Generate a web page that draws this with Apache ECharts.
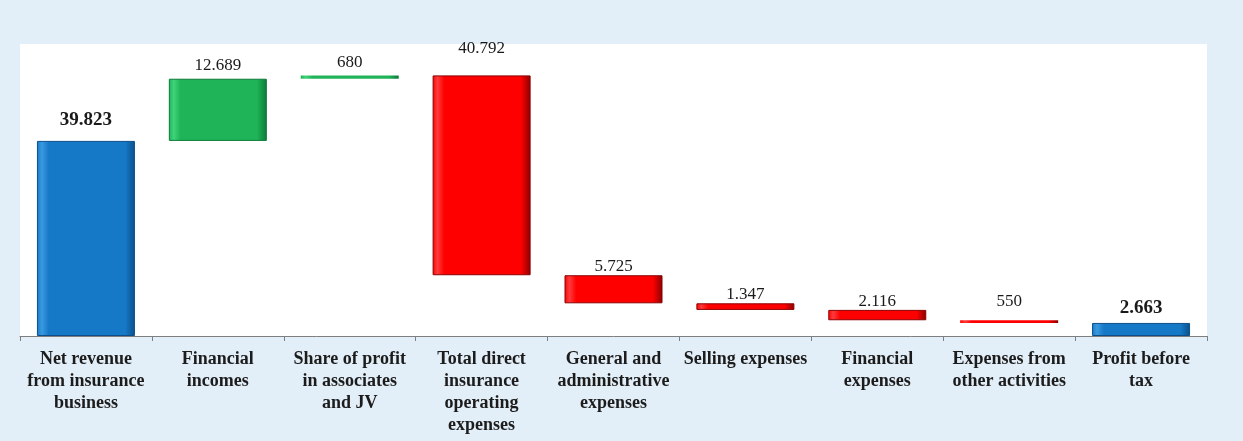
<!DOCTYPE html>
<html>
<head>
<meta charset="utf-8">
<script src="https://cdn.jsdelivr.net/npm/echarts@6/dist/echarts.min.js"></script>
<style>
html,body{margin:0;padding:0;background:#e3eff8;}
#chart{width:1243px;height:441px;}
</style>
</head>
<body>
<div id="chart"></div>
<script>
// categories and values (thousands, shown with dot separator)
var categories = ['Net revenue\nfrom insurance\nbusiness', 'Financial\nincomes', 'Share of profit\nin associates\nand JV',
    'Total direct\ninsurance\noperating\nexpenses', 'General and\nadministrative\nexpenses', 'Selling expenses',
    'Financial\nexpenses', 'Expenses from\nother activities', 'Profit before\ntax'];
var values = [39823, 12689, 680, 40792, 5725, 1347, 2116, 550, 2663];
var kinds = ['total', 'up', 'up', 'down', 'down', 'down', 'down', 'down', 'total'];
var labelGap = [11, 5, 4, 18, 0, 0, 0, 10, 5];

var colors = {
    total: ['#3a9ae0', '#1679c8', '#0b4f8a'],
    up: ['#3fd37a', '#1fb458', '#0d7a38'],
    down: ['#ff3b3b', '#ff0000', '#8a0000']
};

function fmt(v) {
    return String(v).replace(/\B(?=(\d{3})+(?!\d))/g, '.');
}

// base (invisible) part of each waterfall step
var base = [], shown = [];
var run = 0;
for (var i = 0; i < values.length; i++) {
    var k = kinds[i], b;
    if (k == 'total') { b = 0; run = values[i]; }
    else if (k == 'up') { b = run; run += values[i]; }
    else { run -= values[i]; b = run; }
    base.push(b);
    var c = colors[k];
    shown.push({
        value: values[i],
        itemStyle: {
            color: {
                type: 'linear', x: 0, y: 0, x2: 1, y2: 0,
                colorStops: [{offset: 0, color: c[1]}, {offset: 0.05, color: c[0]}, {offset: 0.12, color: c[1]},
                    {offset: 0.9, color: c[1]}, {offset: 1, color: c[2]}]
            },
            borderColor: c[2],
            borderWidth: values[i] > 1000 ? 1 : 0
        },
        label: {
            distance: labelGap[i],
            fontWeight: k == 'total' ? 'bold' : 'normal',
            fontSize: k == 'total' ? 19 : 17
        }
    });
}

var myChart = echarts.init(document.getElementById('chart'));
var option = {
    animation: false,
    grid: {
        left: 20,
        right: 36,
        top: 44,
        bottom: 105,
        show: true,
        backgroundColor: '#ffffff',
        borderWidth: 0
    },
    xAxis: {
        type: 'category',
        data: categories,
        axisLine: {lineStyle: {color: '#7f7f7f', width: 1}},
        axisTick: {show: true, length: 5, lineStyle: {color: '#7f7f7f'}},
        axisLabel: {
            interval: 0,
            margin: 12,
            fontFamily: '"Liberation Serif", "DejaVu Serif", serif',
            fontWeight: 'bold',
            fontSize: 18,
            lineHeight: 22,
            color: '#1c1c1c'
        }
    },
    yAxis: {
        type: 'value',
        min: 0,
        max: 59600,
        show: false,
        splitLine: {show: false}
    },
    series: [
        {
            type: 'bar',
            stack: 'w',
            data: base,
            barWidth: 98,
            itemStyle: {color: 'transparent'},
            silent: true
        },
        {
            type: 'bar',
            stack: 'w',
            data: shown,
            barWidth: 98,
            label: {
                show: true,
                position: 'top',
                fontFamily: '"Liberation Serif", "DejaVu Serif", serif',
                fontSize: 17,
                color: '#1a1a1a',
                formatter: function (p) { return fmt(p.value); }
            }
        }
    ]
};
myChart.setOption(option);
</script>
</body>
</html>
